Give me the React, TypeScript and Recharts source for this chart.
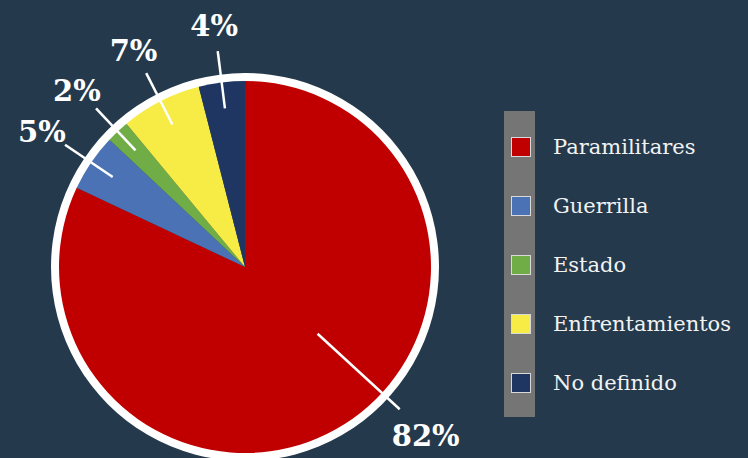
import { Cell, Legend, Pie, PieChart } from "recharts";

const categories = ["Paramilitares", "Guerrilla", "Estado", "Enfrentamientos", "No definido"];
const shares = [82, 5, 2, 7, 4];
const colors = ["#c00000", "#4a72b5", "#70ad47", "#f7eb45", "#1f3662"];

const data = categories.map((name, i) => ({ name, value: shares[i] }));
const ring = [{ name: "ring", value: 1 }];

const FONT = "'DejaVu Serif', serif";
const RAD = Math.PI / 180;

const renderLabel = (props: any) => {
  const { cx, cy, midAngle, outerRadius, percent } = props;
  const big = percent > 0.5;
  // the big slice's label is pulled up so it stays inside the picture
  const angle = big ? midAngle + 15 : midAngle;
  const r1 = big ? outerRadius * 0.53 : outerRadius * 0.86;
  const r2 = big ? outerRadius * 1.13 : outerRadius * 1.17;
  const r3 = outerRadius * 1.32;
  const cos = Math.cos(-angle * RAD);
  const sin = Math.sin(-angle * RAD);
  return (
    <g>
      <line
        x1={cx + r1 * cos}
        y1={cy + r1 * sin}
        x2={cx + r2 * cos}
        y2={cy + r2 * sin}
        stroke="#ffffff"
        strokeWidth={2.5}
      />
      <text
        x={cx + r3 * cos}
        y={cy + r3 * sin + 3}
        fill="#ffffff"
        textAnchor="middle"
        dominantBaseline="central"
        fontFamily={FONT}
        fontWeight="bold"
        fontSize={29}
      >
        {`${Math.round(percent * 100)}%`}
      </text>
    </g>
  );
};

const renderLegend = (props: any) => {
  const items = (props.payload || [])
    .filter((p: any) => categories.includes(p.value))
    .sort((a: any, b: any) => categories.indexOf(a.value) - categories.indexOf(b.value));
  return (
    <div style={{ position: "relative", width: 260, height: 306 }}>
      <div
        style={{
          position: "absolute",
          left: 8,
          top: 0,
          width: 31,
          height: 306,
          background: "#757575",
        }}
      />
      {items.map((item: any, i: number) => (
        <div
          key={item.value}
          style={{
            position: "absolute",
            left: 15,
            top: 24 + i * 59,
            display: "flex",
            alignItems: "center",
            height: 24,
          }}
        >
          <span
            style={{
              width: 18,
              height: 18,
              background: colors[categories.indexOf(item.value)],
              border: "1px solid #d9d9d9",
              display: "inline-block",
            }}
          />
          <span
            style={{
              marginLeft: 22,
              color: "#f2f2f2",
              fontFamily: FONT,
              fontSize: 21,
              whiteSpace: "nowrap",
            }}
          >
            {item.value}
          </span>
        </div>
      ))}
    </div>
  );
};

export default function App() {
  return (
    <div style={{ width: 748, height: 458, background: "#243a4c", overflow: "hidden" }}>
      <style>{`body{margin:0}`}</style>
      <PieChart width={748} height={458} margin={{ top: 0, right: 0, bottom: 0, left: 0 }}>
        <Pie
          data={ring}
          dataKey="value"
          cx={245}
          cy={267}
          innerRadius={185}
          outerRadius={194}
          fill="#ffffff"
          stroke="none"
          legendType="none"
          isAnimationActive={false}
        />
        <Pie
          data={data}
          dataKey="value"
          nameKey="name"
          cx={245}
          cy={267}
          outerRadius={186}
          startAngle={90}
          endAngle={-270}
          stroke="none"
          label={renderLabel}
          labelLine={false}
          isAnimationActive={false}
        >
          {data.map((d, i) => (
            <Cell key={d.name} fill={colors[i]} />
          ))}
        </Pie>
        <Legend
          layout="vertical"
          verticalAlign="top"
          align="right"
          wrapperStyle={{ left: 496, top: 111, width: 260 }}
          content={renderLegend}
        />
      </PieChart>
    </div>
  );
}
